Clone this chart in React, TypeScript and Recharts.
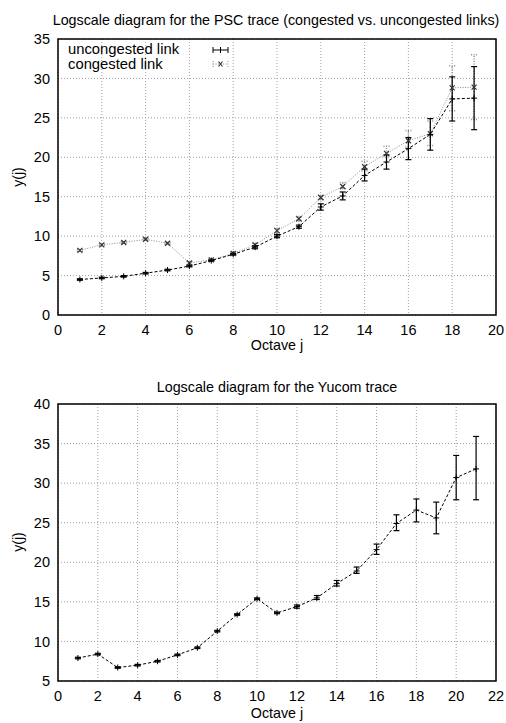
import React from 'react'
import { CartesianGrid, ComposedChart, ErrorBar, Line, ReferenceArea, XAxis, YAxis } from 'recharts'

// PSC trace, octaves 1..19
const pscOctaves = [1, 2, 3, 4, 5, 6, 7, 8, 9, 10, 11, 12, 13, 14, 15, 16, 17, 18, 19]
const uncongested = [4.5, 4.7, 4.9, 5.3, 5.7, 6.2, 6.9, 7.7, 8.6, 10.0, 11.2, 13.7, 15.1, 17.7, 19.4, 21.1, 22.9, 27.4, 27.5]
const uncongestedLow = [4.4, 4.6, 4.8, 5.2, 5.6, 6.1, 6.8, 7.6, 8.4, 9.8, 11.0, 13.3, 14.6, 17.0, 18.5, 19.7, 20.9, 24.6, 23.5]
const uncongestedHigh = [4.6, 4.8, 5.0, 5.4, 5.8, 6.3, 7.0, 7.8, 8.8, 10.2, 11.4, 14.1, 15.6, 18.5, 20.3, 22.5, 24.9, 30.2, 31.5]
const congested = [8.2, 8.9, 9.2, 9.6, 9.1, 6.6, 7.0, 7.8, 8.9, 10.7, 12.2, 14.9, 16.3, 18.8, 20.5, 22.1, 23.0, 28.8, 28.9]
const congestedLow = [8.1, 8.8, 9.1, 9.5, 9.0, 6.4, 6.9, 7.6, 8.7, 10.4, 11.9, 14.6, 16.0, 18.3, 20.1, 21.3, 21.5, 25.9, 24.8]
const congestedHigh = [8.3, 9.0, 9.3, 9.7, 9.2, 6.8, 7.1, 8.0, 9.1, 11.0, 12.5, 15.2, 16.8, 19.5, 21.4, 23.4, 24.6, 31.6, 33.0]

// Yucom trace, octaves 1..21
const yucomOctaves = [1, 2, 3, 4, 5, 6, 7, 8, 9, 10, 11, 12, 13, 14, 15, 16, 17, 18, 19, 20, 21]
const yucom = [7.9, 8.4, 6.7, 7.0, 7.5, 8.3, 9.2, 11.3, 13.4, 15.4, 13.6, 14.4, 15.5, 17.3, 18.9, 21.6, 24.9, 26.6, 25.6, 30.7, 31.8]
const yucomLow = [7.8, 8.3, 6.6, 6.9, 7.4, 8.2, 9.1, 11.2, 13.3, 15.3, 13.5, 14.2, 15.3, 17.0, 18.6, 21.0, 24.0, 25.1, 23.6, 27.9, 27.9]
const yucomHigh = [8.0, 8.5, 6.8, 7.1, 7.6, 8.4, 9.3, 11.4, 13.5, 15.5, 13.7, 14.6, 15.8, 17.7, 19.4, 22.3, 26.0, 28.0, 27.6, 33.5, 35.9]

const pscXTicks = [0, 2, 4, 6, 8, 10, 12, 14, 16, 18, 20]
const pscYTicks = [0, 5, 10, 15, 20, 25, 30, 35]
const yucomXTicks = [0, 2, 4, 6, 8, 10, 12, 14, 16, 18, 20, 22]
const yucomYTicks = [5, 10, 15, 20, 25, 30, 35, 40]

const pscData = pscOctaves.map((j, i) => ({
  j,
  u: uncongested[i],
  uErr: [uncongested[i] - uncongestedLow[i], uncongestedHigh[i] - uncongested[i]],
  c: congested[i],
  cErr: [congested[i] - congestedLow[i], congestedHigh[i] - congested[i]],
}))

const yucomData = yucomOctaves.map((j, i) => ({
  j,
  y: yucom[i],
  yErr: [yucom[i] - yucomLow[i], yucomHigh[i] - yucom[i]],
}))

const FONT = '"Liberation Sans", Arial, sans-serif'
const GRID = '#a0a0a0'
const GRAY = '#8c8c8c'

const plusDot = (color: string) => (props: any) => {
  const { cx, cy, index } = props
  return <path key={`p${index}`} d={`M${cx - 3},${cy}h6M${cx},${cy - 3}v6`} stroke={color} strokeWidth={1} fill="none" />
}

const crossDot = (color: string) => (props: any) => {
  const { cx, cy, index } = props
  return (
    <path key={`x${index}`} d={`M${cx - 2.5},${cy - 2.5}l5,5M${cx - 2.5},${cy + 2.5}l5,-5`} stroke={color} strokeWidth={1.2} fill="none" />
  )
}

const tickStyle = { fill: '#000', fontSize: 14.5, fontFamily: FONT }

function Text({ x, y, size, children, rotate }: any) {
  return (
    <div
      style={{
        position: 'absolute',
        left: x,
        top: y,
        transform: `translate(-50%, -50%)${rotate ? ' rotate(-90deg)' : ''}`,
        fontFamily: FONT,
        fontSize: size,
        lineHeight: 1,
        color: '#000',
        whiteSpace: 'nowrap',
      }}
    >
      {children}
    </div>
  )
}

export default function App() {
  return (
    <div style={{ position: 'absolute', left: 0, top: 0, width: 506, height: 723, background: '#fff' }}>
      <div style={{ position: 'absolute', left: 0, top: 0 }}>
        <ComposedChart width={506} height={355} data={pscData} margin={{ top: 39, right: 10, bottom: 10, left: 28 }}>
          <CartesianGrid stroke={GRID} strokeDasharray="1 2" />
          <XAxis
            dataKey="j"
            type="number"
            domain={[0, 20]}
            ticks={pscXTicks}
            height={30}
            tick={tickStyle}
            tickLine={false}
            axisLine={false}
            tickMargin={4}
          />
          <YAxis
            type="number"
            domain={[0, 35]}
            ticks={pscYTicks}
            width={30}
            tick={tickStyle}
            tickLine={false}
            axisLine={false}
            allowDataOverflow
          />
          <ReferenceArea x1={0} x2={20} y1={0} y2={35} fill="none" stroke="#000" strokeWidth={1.5} ifOverflow="visible" />
          <Line
            dataKey="c"
            type="linear"
            stroke={GRAY}
            strokeDasharray="1 1.5"
            strokeWidth={1}
            dot={crossDot('#333')}
            isAnimationActive={false}
          >
            <ErrorBar dataKey="cErr" direction="y" width={3} stroke={GRAY} strokeDasharray="1 1.5" />
          </Line>
          <Line
            dataKey="u"
            type="linear"
            stroke="#000"
            strokeDasharray="3 2"
            strokeWidth={1}
            dot={plusDot('#000')}
            isAnimationActive={false}
          >
            <ErrorBar dataKey="uErr" direction="y" width={3} stroke="#000" strokeWidth={1.2} />
          </Line>
        </ComposedChart>
      </div>

      <Text x={276} y={20} size={14.3}>Logscale diagram for the PSC trace (congested vs. uncongested links)</Text>
      <Text x={18} y={177} size={14} rotate>y(j)</Text>
      <Text x={277} y={345} size={14.3}>Octave j</Text>

      <div style={{ position: 'absolute', left: 68, top: 42, fontFamily: FONT, fontSize: 14.8, lineHeight: 1 }}>uncongested link</div>
      <div style={{ position: 'absolute', left: 68, top: 57, fontFamily: FONT, fontSize: 14.8, lineHeight: 1 }}>congested link</div>
      <svg style={{ position: 'absolute', left: 210, top: 42 }} width={24} height={30}>
        <path d="M3,8h15M3,5v6M18,5v6M10.5,5v6" stroke="#000" strokeWidth={1} fill="none" />
        <path d="M3,19v6M18,19v6M3,22h15" stroke={GRAY} strokeWidth={1} strokeDasharray="1 1.5" fill="none" />
        <path d="M8.5,19.5l4,5M8.5,24.5l4,-5" stroke="#333" strokeWidth={1.2} fill="none" />
      </svg>

      <div style={{ position: 'absolute', left: 0, top: 365 }}>
        <ComposedChart width={506} height={358} data={yucomData} margin={{ top: 39, right: 10, bottom: 12, left: 28 }}>
          <CartesianGrid stroke={GRID} strokeDasharray="1 2" />
          <XAxis
            dataKey="j"
            type="number"
            domain={[0, 22]}
            ticks={yucomXTicks}
            height={30}
            tick={tickStyle}
            tickLine={false}
            axisLine={false}
            tickMargin={4}
          />
          <YAxis
            type="number"
            domain={[5, 40]}
            ticks={yucomYTicks}
            width={30}
            tick={tickStyle}
            tickLine={false}
            axisLine={false}
            allowDataOverflow
          />
          <ReferenceArea x1={0} x2={22} y1={5} y2={40} fill="none" stroke="#000" strokeWidth={1.5} ifOverflow="visible" />
          <Line
            dataKey="y"
            type="linear"
            stroke="#000"
            strokeDasharray="3 2"
            strokeWidth={1}
            dot={plusDot('#000')}
            isAnimationActive={false}
          >
            <ErrorBar dataKey="yErr" direction="y" width={3} stroke="#000" strokeWidth={1.2} />
          </Line>
        </ComposedChart>
      </div>

      <Text x={277} y={387} size={14.3}>Logscale diagram for the Yucom trace</Text>
      <Text x={18} y={542} size={14} rotate>y(j)</Text>
      <Text x={277} y={713} size={14.3}>Octave j</Text>
    </div>
  )
}
